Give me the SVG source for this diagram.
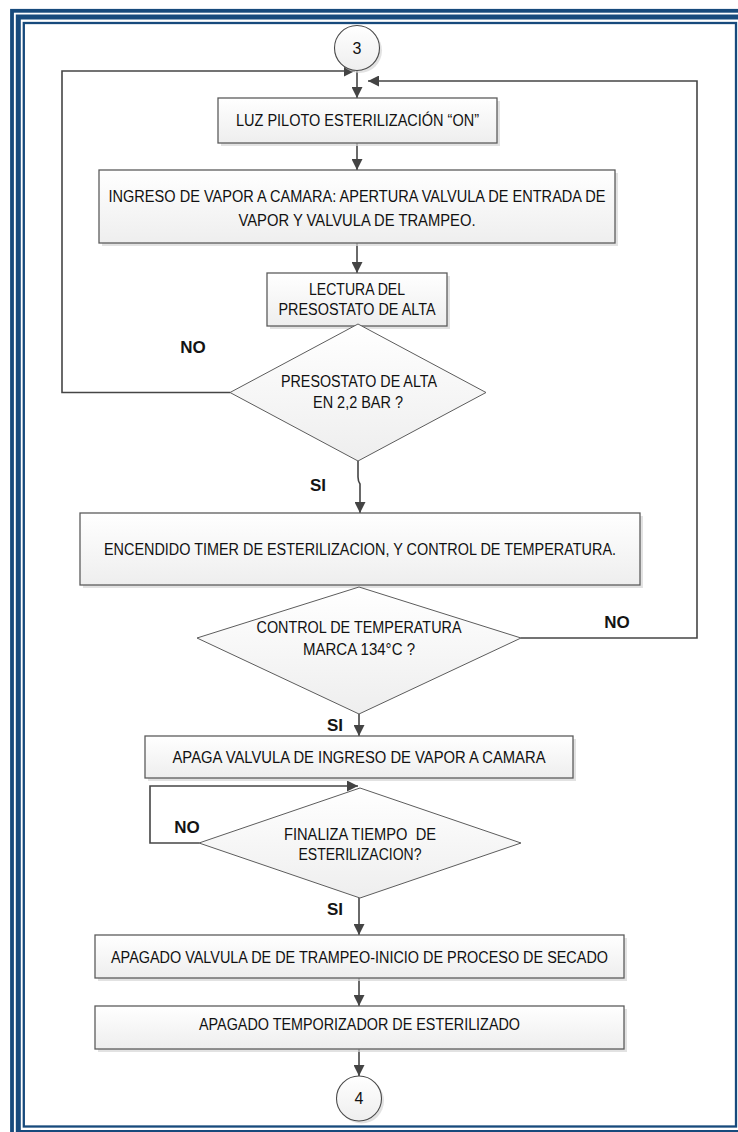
<svg xmlns="http://www.w3.org/2000/svg" width="738" height="1132" viewBox="0 0 738 1132">
<defs>
<linearGradient id="gBox" x1="0" y1="0" x2="0" y2="1">
<stop offset="0" stop-color="#ffffff"/>
<stop offset="1" stop-color="#eeeeee"/>
</linearGradient>
<marker id="arr" viewBox="0 0 10 10" refX="10" refY="5" markerWidth="11" markerHeight="11" markerUnits="userSpaceOnUse" orient="auto">
<path d="M0,0 L10,5 L0,10 z" fill="#444444"/>
</marker>
<style>
.frame{fill:none;stroke:#174a7c}
.box{fill:url(#gBox);stroke:#5c5c5c;stroke-width:1.3}
.dia{fill:url(#gBox);stroke:#5c5c5c;stroke-width:1}
.sh{fill:#d6d6d6;opacity:0.7}
.con{fill:none;stroke:#454545;stroke-width:1.6}
.t{font-family:"Liberation Sans",Arial,sans-serif;font-size:16px;fill:#111111;text-anchor:middle}
.lb{font-family:"Liberation Sans",Arial,sans-serif;font-size:17px;font-weight:bold;fill:#141414;text-anchor:middle}
</style>
</defs>
<rect width="738" height="1132" fill="#ffffff"/>
<g id="border">
<rect class="frame" x="12" y="10.8" width="760" height="1160" stroke-width="3.8"/>
<rect class="frame" x="18.3" y="17" width="730" height="1115.5" stroke-width="5"/>
<rect class="frame" x="23.8" y="23" width="712.2" height="1103.5" stroke-width="2.3"/>
</g>
<g id="connectors">
<path class="con" d="M357 70.5 V98" marker-end="url(#arr)"/>
<path class="con" d="M357 143 V170" marker-end="url(#arr)"/>
<path class="con" d="M357 243 V273" marker-end="url(#arr)"/>
<path class="con" d="M230 392.5 H62 V71 H355" marker-end="url(#arr)"/>
<path class="con" d="M358 461 V477 Q358 481 360 484 V513" marker-end="url(#arr)"/>
<path class="con" d="M521 638 H697 V81 H368" marker-end="url(#arr)"/>
<path class="con" d="M359 714 V736" marker-end="url(#arr)"/>
<path class="con" d="M199 843 H150 V786 H358" marker-end="url(#arr)"/>
<path class="con" d="M359 898 V935" marker-end="url(#arr)"/>
<path class="con" d="M359 978 V1006" marker-end="url(#arr)"/>
<path class="con" d="M359 1049 V1076" marker-end="url(#arr)"/>
</g>
<g id="c3">
<circle cx="359.5" cy="50.5" r="22.5" class="sh"/>
<circle cx="357" cy="48" r="22.5" fill="url(#gBox)" stroke="#4a4a4a" stroke-width="1.1"/>
<text class="t" x="357" y="54">3</text>
</g>
<g id="n1">
<rect class="sh" x="221" y="101" width="279" height="45"/>
<rect class="box" x="218" y="98" width="279" height="45"/>
<text class="t" x="357.5" y="126" textLength="243" lengthAdjust="spacingAndGlyphs">LUZ PILOTO ESTERILIZACIÓN “ON”</text>
</g>
<g id="n2">
<rect class="sh" x="102" y="173" width="516" height="73"/>
<rect class="box" x="99" y="170" width="516" height="73"/>
<text class="t" x="357" y="202" textLength="497" lengthAdjust="spacingAndGlyphs">INGRESO DE VAPOR A CAMARA: APERTURA VALVULA DE ENTRADA DE</text>
<text class="t" x="357" y="226" textLength="237" lengthAdjust="spacingAndGlyphs">VAPOR Y VALVULA DE TRAMPEO.</text>
</g>
<g id="n3">
<rect class="sh" x="270" y="276" width="180" height="53"/>
<rect class="box" x="267" y="273" width="180" height="53"/>
<text class="t" x="357" y="295" textLength="96" lengthAdjust="spacingAndGlyphs">LECTURA DEL</text>
<text class="t" x="357" y="315" textLength="157" lengthAdjust="spacingAndGlyphs">PRESOSTATO DE ALTA</text>
</g>
<g id="d1">
<polygon class="dia" points="358,324 486,392.5 358,461 230,392.5"/>
<text class="t" x="359" y="387" textLength="156" lengthAdjust="spacingAndGlyphs">PRESOSTATO DE ALTA</text>
<text class="t" x="358" y="408" textLength="90" lengthAdjust="spacingAndGlyphs">EN 2,2 BAR ?</text>
</g>
<g id="n4">
<rect class="sh" x="83" y="516" width="560" height="72"/>
<rect class="box" x="80" y="513" width="560" height="72"/>
<text class="t" x="360" y="555" textLength="512" lengthAdjust="spacingAndGlyphs">ENCENDIDO TIMER DE ESTERILIZACION, Y CONTROL DE TEMPERATURA.</text>
</g>
<g id="d2">
<polygon class="dia" points="359,587 521,638 359,714 197,638"/>
<text class="t" x="359" y="633" textLength="205" lengthAdjust="spacingAndGlyphs">CONTROL DE TEMPERATURA</text>
<text class="t" x="359" y="655" textLength="112" lengthAdjust="spacingAndGlyphs">MARCA 134°C ?</text>
</g>
<g id="n5">
<rect class="sh" x="148" y="739" width="428" height="42"/>
<rect class="box" x="145" y="736" width="428" height="42"/>
<text class="t" x="359" y="763" textLength="373" lengthAdjust="spacingAndGlyphs">APAGA VALVULA DE INGRESO DE VAPOR A CAMARA</text>
</g>
<g id="d3">
<polygon class="dia" points="360,788 521,843 360,898 199,843"/>
<text class="t" x="360" y="839.5" textLength="152" lengthAdjust="spacingAndGlyphs" xml:space="preserve">FINALIZA TIEMPO  DE</text>
<text class="t" x="360" y="860" textLength="123" lengthAdjust="spacingAndGlyphs">ESTERILIZACION?</text>
</g>
<g id="n6">
<rect class="sh" x="98" y="938" width="529" height="43"/>
<rect class="box" x="95" y="935" width="529" height="43"/>
<text class="t" x="359.5" y="963" textLength="497" lengthAdjust="spacingAndGlyphs">APAGADO VALVULA DE DE TRAMPEO-INICIO DE PROCESO DE SECADO</text>
</g>
<g id="n7">
<rect class="sh" x="98" y="1009" width="529" height="43"/>
<rect class="box" x="95" y="1006" width="529" height="43"/>
<text class="t" x="359.5" y="1030" textLength="321" lengthAdjust="spacingAndGlyphs">APAGADO TEMPORIZADOR DE ESTERILIZADO</text>
</g>
<g id="c4">
<circle cx="361.5" cy="1101" r="22.5" class="sh"/>
<circle cx="359" cy="1098.5" r="22.5" fill="url(#gBox)" stroke="#4a4a4a" stroke-width="1.1"/>
<text class="t" x="359" y="1104">4</text>
</g>
<g id="labels">
<text class="lb" x="193" y="353">NO</text>
<text class="lb" x="318" y="491">SI</text>
<text class="lb" x="617" y="628">NO</text>
<text class="lb" x="335" y="731">SI</text>
<text class="lb" x="187" y="833">NO</text>
<text class="lb" x="335" y="915">SI</text>
</g>
</svg>
